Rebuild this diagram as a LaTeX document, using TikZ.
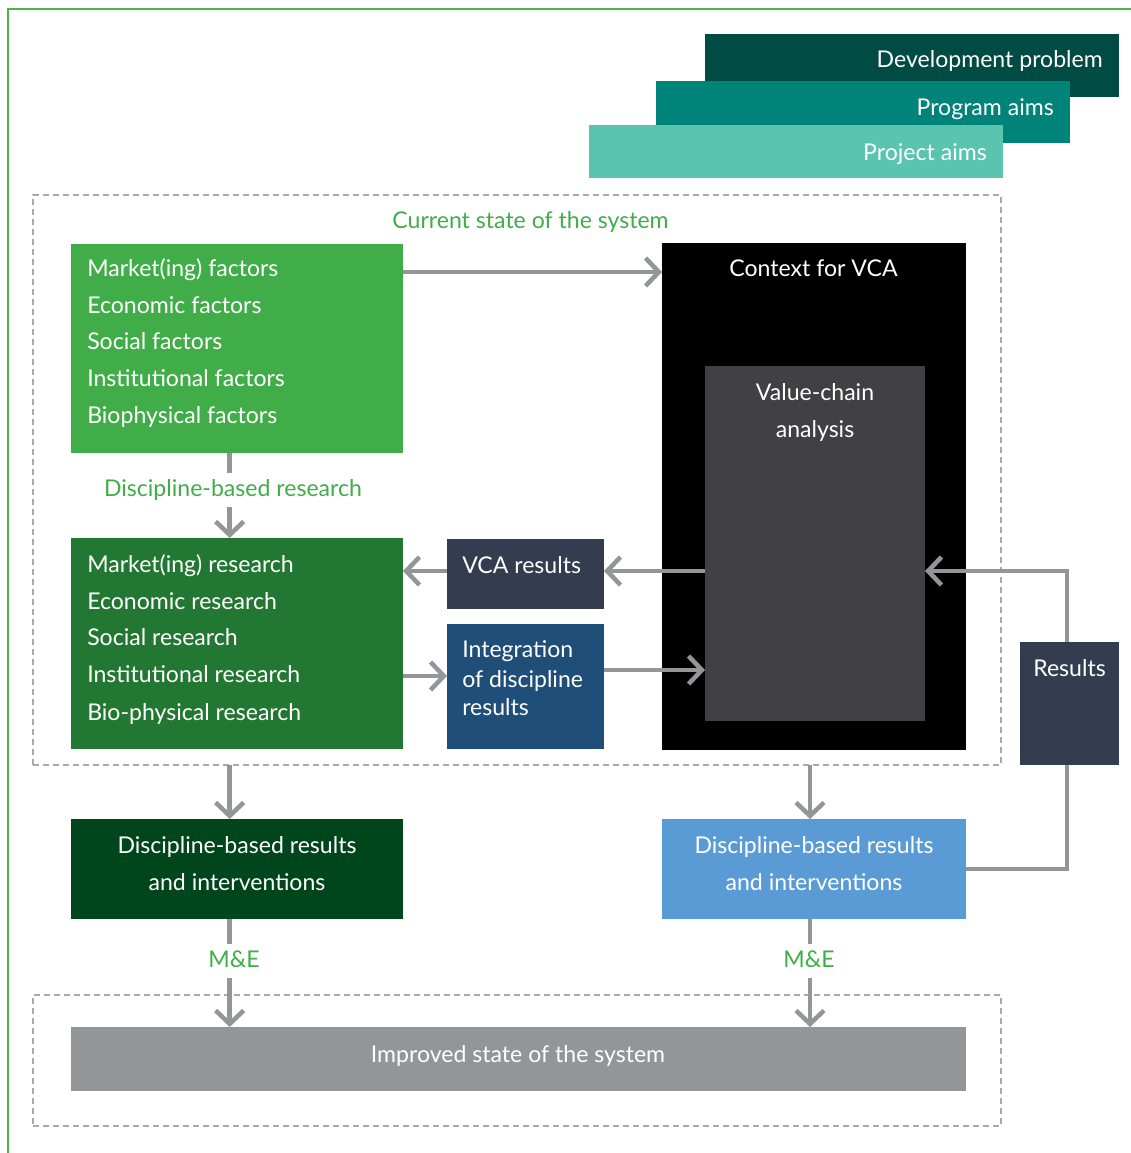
\documentclass[tikz,border=0pt]{standalone}
\usepackage{fontspec}
\setmainfont{Lato}
\usetikzlibrary{arrows.meta,calc}
\definecolor{framegreen}{HTML}{4CB748}
\definecolor{devc}{HTML}{004B43}
\definecolor{progc}{HTML}{00847A}
\definecolor{projc}{HTML}{5BC4AE}
\definecolor{gone}{HTML}{41AD49}
\definecolor{gtwo}{HTML}{227832}
\definecolor{gthree}{HTML}{00461C}
\definecolor{slate}{HTML}{333D4F}
\definecolor{intblue}{HTML}{1F4E79}
\definecolor{vcgray}{HTML}{414042}
\definecolor{lblue}{HTML}{5B9BD5}
\definecolor{agray}{HTML}{939598}
\definecolor{dgray}{HTML}{A7A9AC}
\newcommand\pxbox[6]{\node[boxbase, fill=#2, minimum width={(#5-#3)*0.75pt}, minimum height={(#6-#4)*0.75pt}] (#1) at ({(#3+#5)/2},{(#4+#6)/2}) {};}
\begin{document}
\begin{tikzpicture}[x=0.75pt,y=-0.75pt,
  font=\fontsize{17.3}{20}\selectfont,
  boxbase/.style={rectangle, inner sep=0pt, outer sep=0pt, draw=none},
  dashbox/.style={rectangle, inner sep=0pt, outer sep=0pt, draw=dgray, line width=1.4pt, dash pattern=on 4.5pt off 3pt},
  wt/.style={text=white, inner sep=0pt},
  gt/.style={text=gone, inner sep=0pt},
  arr/.style={draw=agray, line width=3.4pt, line join=miter, -{Straight Barb[length=10pt,width=21pt]}},
  conn/.style={draw=agray, line width=3.4pt},
  lbl/.style={text=gone, fill=white, inner xsep=3pt, inner ysep=5pt, text height=12.5pt, text depth=3pt},
]
\useasboundingbox (0,0) rectangle (1131,1153);
\draw[framegreen, line width=1pt] (8,1153) -- (8,9) -- (1131,9);

% header bands
\pxbox{dev}{devc}{705}{34}{1119}{97}
\pxbox{prog}{progc}{656}{81}{1070}{143}
\pxbox{proj}{projc}{589}{125}{1003}{178}
\node[wt, anchor=base east] (devt) at (1103,67) {Development problem};
\node[wt, anchor=base east] (progt) at (1054,115) {Program aims};
\node[wt, anchor=base east] (projt) at (987,160) {Project aims};

% dashed frames
\node[dashbox, minimum width={968*0.75pt}, minimum height={570*0.75pt}] (cur) at (517,480) {};
\node[dashbox, minimum width={968*0.75pt}, minimum height={131*0.75pt}] (impf) at (517,1060.5) {};
\node[gt, anchor=base] (curt) at (530.5,228) {Current state of the system};

% boxes
\pxbox{fac}{gone}{71}{244}{403}{453}
\pxbox{ctx}{black}{662}{243}{966}{750}
\pxbox{vcb}{vcgray}{705}{366}{925}{721}
\pxbox{res2}{gtwo}{71}{538}{403}{749}
\pxbox{vcar}{slate}{447}{539}{604}{609}
\pxbox{integ}{intblue}{447}{624}{604}{749}
\pxbox{resb}{slate}{1020}{642}{1119}{765}
\pxbox{dk}{gthree}{71}{819}{403}{919}
\pxbox{lb}{lblue}{662}{819}{966}{919}
\pxbox{imp}{agray}{71}{1027}{966}{1091}

% texts
\node[wt, anchor=base west] (f1) at (87,276) {Market(ing) factors};
\node[wt, anchor=base west] (f2) at (87,313) {Economic factors};
\node[wt, anchor=base west] (f3) at (87,349) {Social factors};
\node[wt, anchor=base west] (f4) at (87,386) {Institutional factors};
\node[wt, anchor=base west] (f5) at (87,423) {Biophysical factors};
\node[wt, anchor=base] (ctxt) at (813.5,276) {Context for VCA};
\node[wt, anchor=base] (vct1) at (815,400) {Value-chain};
\node[wt, anchor=base] (vct2) at (815,437) {analysis};
\node[wt, anchor=base west] (r1) at (87,572) {Market(ing) research};
\node[wt, anchor=base west] (r2) at (87,609) {Economic research};
\node[wt, anchor=base west] (r3) at (87,645) {Social research};
\node[wt, anchor=base west] (r4) at (87,682) {Institutional research};
\node[wt, anchor=base west] (r5) at (87,720) {Bio-physical research};
\node[wt, anchor=base west] (vcart) at (462,573) {VCA results};
\node[wt, anchor=base west] (it1) at (462,657) {Integration};
\node[wt, anchor=base west] (it2) at (462,687) {of discipline};
\node[wt, anchor=base west] (it3) at (462,715) {results};
\node[wt, anchor=base] (rest) at (1069.5,676) {Results};
\node[wt, anchor=base] (dk1) at (237,853) {Discipline-based results};
\node[wt, anchor=base] (dk2) at (237,890) {and interventions};
\node[wt, anchor=base] (lb1) at (814,853) {Discipline-based results};
\node[wt, anchor=base] (lb2) at (814,890) {and interventions};
\node[wt, anchor=base] (impt) at (518,1062) {Improved state of the system};

% connectors
\draw[arr] ($(fac.north east)+(0,28)$) coordinate (a1) -- (a1 -| ctx.west);
\draw[arr] ([xshift=-5.5pt]fac.south) -- ([xshift=-5.5pt]res2.north);
\node[lbl, anchor=base] (dbr) at (233,496) {Discipline-based research};
\draw[arr] ($(vcb.west |- vcar.east)+(0,-3)$) coordinate (a2) -- (a2 -| vcar.east);
\draw[arr] ($(vcar.west)+(0,-3)$) coordinate (a3) -- (a3 -| res2.east);
\draw[arr] ($(res2.east |- integ.west)+(0,-10.5)$) coordinate (a4) -- (a4 -| integ.west);
\draw[arr] ($(integ.east)+(0,-16.5)$) coordinate (a5) -- (a5 -| vcb.west);
\draw[arr] ($(resb.north)+(-2.5,0)$) coordinate (a6) |- ($(vcb.east |- vcar.east)+(0,-3)$);
\draw[conn] (lb.east) -| ($(resb.south)+(-2.5,0)$);
\draw[arr] ([xshift=-5.5pt]cur.south -| dk.north) -- ([xshift=-5.5pt]dk.north);
\draw[arr] ([xshift=-3pt]cur.south -| lb.north) -- ([xshift=-3pt]lb.north);
\draw[arr] ([xshift=-5.5pt]dk.south) -- ([xshift=-5.5pt]imp.north -| dk.south);
\draw[arr] ([xshift=-3pt]lb.south) -- ([xshift=-3pt]imp.north -| lb.south);
\node[lbl, anchor=base] (me1) at (234,967) {M\&E};
\node[lbl, anchor=base] (me2) at (809,967) {M\&E};
\end{tikzpicture}
\end{document}
